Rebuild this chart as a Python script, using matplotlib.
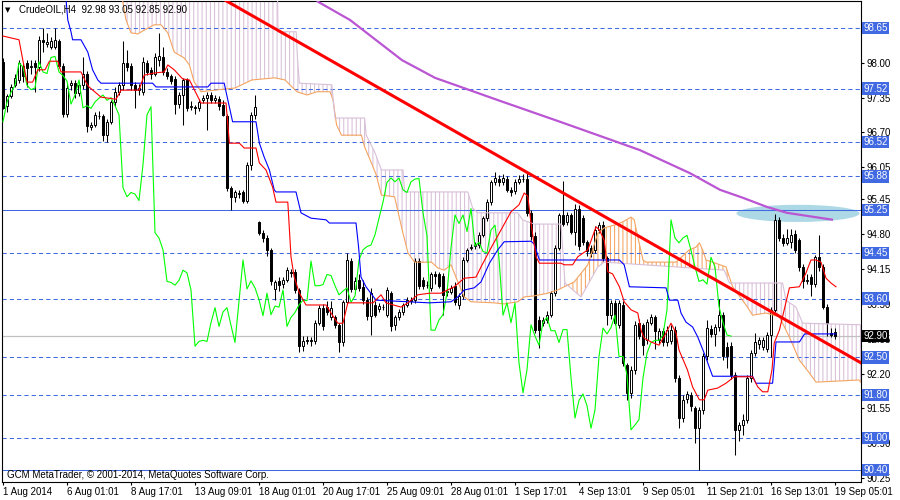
import numpy as np
import matplotlib
matplotlib.use("Agg")
import matplotlib.pyplot as plt
import matplotlib.transforms as mtransforms
from matplotlib.patches import Ellipse, Polygon

plt.rcParams['font.family'] = ['Liberation Sans', 'DejaVu Sans']
plt.rcParams['hatch.linewidth'] = 0.75

# H4 candles, 1 Aug - 19 Sep 2014
opens = [98.02, 97.20, 97.38, 97.59, 97.68, 97.95, 98.00, 97.92, 98.00, 97.92,
         98.42, 98.36, 98.30, 98.30, 98.40, 97.95, 97.05, 97.58, 97.62, 97.43,
         97.58, 97.80, 96.80, 96.84, 97.00, 97.00, 96.65, 96.90, 97.27, 97.45,
         97.58, 98.00, 97.95, 97.58, 97.50, 97.45, 98.00, 97.87, 97.80, 98.05,
         98.10, 97.83, 97.76, 97.70, 97.23, 97.40, 97.68, 97.18, 97.17, 97.16,
         97.30, 97.34, 97.40, 97.30, 97.32, 97.21, 97.00, 95.67, 95.50, 95.57,
         95.58, 95.43, 96.10, 97.03, 95.03, 94.83, 94.73, 94.50, 93.77, 93.92,
         93.88, 93.94, 94.10, 94.10, 93.76, 92.71, 92.80, 92.82, 92.80, 93.15,
         93.43, 93.45, 93.25, 93.25, 93.10, 92.78, 93.54, 94.30, 93.78, 93.94,
         93.82, 93.58, 93.28, 93.48, 93.40, 93.45, 93.30, 93.70, 93.10, 93.25,
         93.34, 93.48, 93.57, 93.57, 94.30, 93.94, 93.85, 93.80, 94.05, 94.05,
         94.02, 93.72, 93.72, 93.84, 93.48, 93.65, 94.32, 94.54, 94.58, 94.60,
         94.79, 95.10, 95.40, 95.77, 95.83, 95.78, 95.83, 95.63, 95.60, 95.78,
         95.83, 95.83, 95.20, 94.77, 93.20, 93.15, 93.20, 93.30, 93.70, 94.55,
         95.16, 95.03, 95.16, 94.85, 95.28, 95.10, 94.65, 94.55, 94.51, 94.88,
         94.97, 94.35, 93.29, 93.52, 93.11, 93.48, 92.36, 91.84, 92.27, 93.15,
         93.11, 92.82, 93.15, 93.25, 92.82, 93.00, 92.78, 92.80, 93.02, 92.12,
         91.37, 91.72, 91.80, 91.55, 91.18, 91.52, 92.52, 93.03, 92.94, 93.06,
         93.29, 92.70, 92.72, 92.17, 91.15, 91.24, 91.34, 92.12, 92.58, 92.75,
         92.70, 92.66, 92.92, 93.39, 95.07, 94.73, 94.64, 94.66, 94.80, 94.69,
         94.19, 93.93, 94.00, 93.87, 94.37, 94.19, 93.45, 92.95, 92.98]
highs = [98.09, 97.42, 97.60, 97.80, 98.05, 98.00, 98.05, 98.05, 98.05, 98.50,
         98.65, 98.55, 98.48, 98.65, 98.45, 98.00, 97.60, 97.68, 97.68, 97.65,
         98.10, 97.85, 96.90, 97.08, 97.10, 97.05, 96.95, 97.30, 97.55, 97.65,
         98.40, 98.24, 98.00, 97.65, 97.60, 98.10, 98.05, 97.92, 98.18, 98.55,
         98.30, 97.90, 97.80, 97.75, 97.45, 97.72, 97.72, 97.28, 97.22, 97.32,
         97.40, 97.45, 97.45, 97.40, 97.38, 97.30, 97.05, 95.70, 95.62, 95.62,
         95.62, 96.15, 97.08, 97.40, 95.05, 94.88, 94.78, 94.55, 93.95, 94.00,
         94.00, 94.18, 94.15, 94.15, 93.80, 92.90, 92.90, 92.88, 93.20, 93.48,
         93.50, 93.55, 93.55, 93.30, 93.15, 93.58, 94.45, 94.35, 94.00, 94.05,
         93.95, 93.62, 93.80, 93.55, 93.52, 93.50, 93.82, 93.75, 93.30, 93.40,
         93.52, 93.62, 93.62, 94.36, 94.35, 94.00, 93.92, 94.10, 94.12, 94.10,
         94.08, 93.80, 93.86, 93.90, 93.70, 94.38, 94.55, 94.62, 94.66, 94.84,
         95.15, 95.45, 95.82, 95.96, 95.90, 95.92, 95.88, 95.68, 95.84, 95.90,
         95.92, 95.95, 95.25, 94.85, 93.28, 93.26, 93.36, 93.75, 94.60, 95.20,
         95.80, 95.22, 95.20, 95.36, 95.35, 95.16, 94.70, 94.60, 94.95, 95.03,
         95.05, 94.40, 93.58, 93.58, 93.58, 93.55, 92.40, 92.35, 93.18, 93.22,
         93.15, 93.22, 93.32, 93.30, 93.05, 93.05, 93.08, 93.10, 93.08, 92.18,
         91.80, 91.88, 91.85, 91.60, 91.58, 92.58, 93.20, 93.10, 93.12, 93.60,
         93.35, 92.78, 92.78, 92.22, 91.30, 91.45, 92.18, 92.64, 92.95, 92.88,
         92.88, 92.98, 93.45, 95.18, 95.12, 94.80, 94.90, 94.90, 94.88, 94.73,
         94.25, 94.05, 94.05, 94.42, 94.78, 94.24, 93.50, 93.05, 93.05]
lows = [97.14, 97.08, 97.35, 97.55, 97.62, 97.65, 97.55, 97.80, 97.45, 97.85,
        98.20, 98.30, 98.25, 98.25, 97.90, 96.98, 96.98, 97.50, 97.35, 97.38,
        97.52, 96.70, 96.75, 96.80, 96.95, 96.55, 96.52, 96.85, 97.20, 97.40,
        97.50, 97.85, 97.50, 97.16, 97.40, 97.40, 97.78, 97.70, 97.75, 97.95,
        97.78, 97.70, 97.60, 97.05, 97.15, 96.84, 97.10, 97.12, 97.05, 97.10,
        97.25, 96.75, 97.25, 97.25, 97.12, 97.00, 95.60, 95.25, 95.40, 95.48,
        95.38, 95.38, 96.00, 96.95, 94.78, 94.65, 94.40, 93.85, 93.57, 93.75,
        93.80, 93.90, 94.00, 93.70, 92.60, 92.62, 92.75, 92.72, 92.75, 93.10,
        93.02, 93.30, 93.20, 93.05, 92.60, 92.72, 93.50, 93.72, 93.70, 93.75,
        93.50, 93.20, 92.92, 93.25, 93.35, 93.38, 93.25, 93.00, 93.02, 93.20,
        93.30, 93.45, 93.50, 93.52, 93.78, 93.78, 93.80, 93.75, 93.88, 93.80,
        93.30, 93.65, 93.68, 93.48, 93.40, 93.60, 94.28, 94.50, 94.52, 94.55,
        94.75, 95.05, 95.35, 95.72, 95.70, 95.72, 95.58, 95.52, 95.55, 95.73,
        95.78, 95.15, 94.70, 92.95, 92.68, 93.08, 93.15, 93.25, 93.65, 94.50,
        94.95, 94.98, 94.80, 94.60, 94.50, 94.60, 94.40, 94.38, 94.45, 94.82,
        94.30, 93.10, 93.22, 93.10, 93.05, 92.35, 91.70, 91.75, 92.20, 92.85,
        92.55, 92.75, 93.10, 92.65, 92.75, 92.72, 92.72, 92.75, 92.05, 91.18,
        91.30, 91.65, 91.50, 90.90, 90.40, 91.45, 92.45, 92.88, 92.72, 93.00,
        92.45, 92.30, 92.10, 90.68, 90.95, 91.05, 91.28, 92.05, 92.52, 92.65,
        92.64, 92.60, 92.50, 93.35, 94.68, 94.58, 94.60, 94.55, 94.45, 94.12,
        93.80, 93.88, 93.65, 93.82, 94.12, 93.40, 92.90, 92.88, 92.85]
closes = [97.16, 97.38, 97.55, 97.72, 98.00, 97.75, 97.90, 97.95, 97.92, 98.43,
          98.38, 98.38, 98.40, 98.42, 97.94, 97.05, 97.53, 97.62, 97.43, 97.58,
          97.80, 96.82, 96.84, 97.03, 97.01, 96.65, 96.90, 97.27, 97.45, 97.58,
          98.00, 97.92, 97.58, 97.50, 97.53, 98.02, 97.83, 97.80, 98.10, 98.12,
          97.83, 97.76, 97.66, 97.23, 97.40, 97.68, 97.16, 97.20, 97.15, 97.27,
          97.34, 97.40, 97.30, 97.35, 97.20, 97.03, 95.67, 95.50, 95.58, 95.55,
          95.43, 96.10, 97.03, 97.18, 94.83, 94.73, 94.51, 93.92, 93.90, 93.85,
          93.94, 94.13, 94.08, 93.76, 92.71, 92.80, 92.82, 92.80, 93.15, 93.43,
          93.08, 93.35, 93.43, 93.10, 92.78, 93.54, 94.32, 93.78, 93.93, 93.80,
          93.58, 93.28, 93.70, 93.30, 93.46, 93.44, 93.76, 93.08, 93.25, 93.34,
          93.48, 93.57, 93.56, 94.30, 93.84, 93.84, 93.86, 94.05, 94.03, 93.84,
          93.67, 93.74, 93.80, 93.53, 93.65, 94.32, 94.51, 94.57, 94.60, 94.79,
          95.10, 95.40, 95.77, 95.85, 95.78, 95.85, 95.63, 95.58, 95.78, 95.83,
          95.84, 95.20, 94.77, 93.01, 93.01, 93.20, 93.30, 93.70, 94.55, 95.16,
          95.00, 95.16, 94.85, 95.28, 94.58, 94.65, 94.48, 94.45, 94.88, 94.97,
          94.35, 93.29, 93.52, 93.15, 93.52, 92.40, 91.84, 92.27, 93.11, 92.90,
          92.73, 93.16, 93.25, 93.00, 93.00, 92.78, 93.02, 93.02, 92.12, 91.37,
          91.70, 91.82, 91.60, 91.18, 91.52, 92.52, 93.05, 92.94, 93.06, 93.29,
          92.52, 92.52, 92.17, 91.15, 91.24, 91.34, 92.12, 92.58, 92.78, 92.82,
          92.82, 92.92, 93.39, 95.07, 94.73, 94.64, 94.73, 94.78, 94.50, 94.19,
          93.92, 93.95, 93.87, 94.37, 94.19, 93.45, 93.15, 92.92, 92.90]

# Ichimoku lines as (bar, price) points
tenkan = [(0, 98.50), (4, 98.43), (6, 97.64), (7.4, 97.64), (8.7, 97.87), (10.5, 97.87),
          (11.6, 98.03), (13.7, 98.03), (14.5, 97.83), (19.5, 97.83), (20.7, 97.64),
          (21.5, 97.55), (24.5, 97.36), (28.25, 97.32), (29.5, 97.49), (34, 97.49),
          (35.3, 97.77), (37.8, 97.81), (40.3, 97.83), (41.2, 97.96), (42.8, 97.87),
          (44.9, 97.70), (46.6, 97.68), (49.5, 97.25), (55.75, 97.25), (56.6, 96.50),
          (59.1, 96.50), (60.3, 96.41), (63.25, 96.41), (64.1, 96.13), (65.75, 96.00),
          (67.4, 95.68), (68.25, 95.40), (71.2, 95.40), (72, 94.38), (72.8, 94.00),
          (74.1, 93.70), (75.75, 93.48), (80.75, 93.48), (82, 93.33), (83.7, 93.14),
          (85, 93.14), (86.2, 93.52), (92.5, 93.52), (94.5, 93.67), (95.75, 93.52),
          (99.5, 93.44), (101.2, 93.52), (103.7, 93.67), (106.6, 93.70), (109.5, 93.70),
          (112.8, 93.82), (115.3, 93.98), (118.25, 94.00), (119.5, 94.19), (122.4, 94.60),
          (124.5, 94.88), (127, 95.22), (129, 95.35), (130.3, 95.57), (131.2, 95.51),
          (132, 95.01), (133.25, 94.38), (134.1, 94.26), (139.5, 94.26), (140.3, 94.23),
          (142.4, 94.23), (143.7, 94.38), (146.2, 94.51), (148.25, 94.94), (149.1, 94.88),
          (150.3, 94.69), (151.2, 94.10), (152.4, 94.06), (154.1, 93.82), (155.3, 93.54),
          (157, 93.39), (158.7, 93.33), (159.5, 93.01), (160.3, 92.86), (162, 92.79),
          (164, 92.73), (165.5, 92.92), (167, 93.14), (168.25, 92.96), (169, 92.64),
          (171.1, 92.27), (172.4, 91.95), (174.1, 91.71), (175.3, 91.71), (176.2, 91.89),
          (178.7, 91.93), (180.75, 92.02), (182.8, 92.14), (187.4, 92.14), (188.7, 91.95),
          (189.9, 91.86), (191.2, 91.86), (192.25, 92.27), (192.8, 92.77), (194.1, 93.01),
          (195.3, 93.39), (196.6, 93.80), (199.1, 93.82), (200.75, 94.08), (202, 94.32),
          (203.25, 94.32), (204.5, 94.28), (205.75, 93.98), (207, 93.89), (208.25, 93.82)]
kijun = [(15.5, 99.40), (16.2, 98.80), (17, 98.58), (17.4, 98.43), (19.5, 98.43), (21.2, 98.20),
         (22.4, 97.87), (23.7, 97.68), (24.5, 97.62), (37.4, 97.62), (38.25, 97.55), (51.2, 97.55),
         (52, 97.62), (55.3, 97.62), (56.2, 97.31), (57.4, 96.90), (63.25, 96.90), (64.1, 96.50),
         (65.3, 96.24), (66.6, 96.00), (67.8, 95.63), (68.25, 95.59), (73.25, 95.59), (74.5, 95.20),
         (77, 95.10), (80.75, 95.07), (81.6, 95.01), (88.25, 95.01), (88.9, 94.56), (89.5, 94.00),
         (90.75, 93.82), (93.25, 93.57), (106.6, 93.52), (112, 93.54), (113.7, 93.63),
         (115.3, 93.76), (117.8, 93.80), (119.5, 93.91), (121.6, 94.26), (123.7, 94.51),
         (125.3, 94.66), (132, 94.67), (132.8, 94.62), (134.1, 94.32), (154.1, 94.32),
         (155.3, 94.23), (156.6, 93.82), (165.75, 93.80), (166.6, 93.57), (168.7, 93.57),
         (169.5, 93.33), (170.75, 93.16), (172.4, 93.07), (173.7, 92.88), (175.3, 92.58),
         (177.4, 92.15), (187.4, 92.15), (188.25, 92.02), (192.4, 92.02), (193.25, 92.79),
         (199.1, 92.79), (200.4, 92.94), (208.25, 92.94)]
senkou_a = [(0, 99.55), (29, 99.55), (30.75, 98.80), (32, 98.56), (33.7, 98.54), (35.3, 98.61),
            (37.8, 98.71), (39.5, 98.71), (41.2, 98.56), (42.8, 98.20), (45.3, 98.09),
            (46.6, 97.96), (47.8, 97.64), (48.7, 97.55), (49.5, 97.46), (53, 97.49), (58, 97.53),
            (62.2, 97.68), (68, 97.72), (70.5, 97.68), (73.5, 97.46), (76, 97.40), (78.5, 97.46),
            (81.75, 97.46), (82.5, 97.31), (83.4, 96.84), (84.6, 96.65), (89.6, 96.65),
            (90.4, 96.43), (92.1, 96.13), (93.3, 95.91), (94.6, 95.53), (97.9, 95.50),
            (98.75, 95.22), (100, 94.82), (101.25, 94.45), (102.9, 94.28), (107.1, 94.28),
            (108.75, 94.17), (110.3, 94.13), (112, 94.23), (113.5, 93.95), (115.3, 93.63),
            (117, 93.54), (122.8, 93.52), (125.3, 93.50), (128.7, 93.54), (130.3, 93.63),
            (132.8, 93.65), (136.2, 93.70), (138.7, 93.76), (140.3, 93.82), (142.8, 93.91),
            (146.2, 94.23), (148.7, 94.82), (150.3, 94.92), (152.8, 94.97), (154.9, 95.03),
            (157, 95.12), (157.8, 95.07), (158.7, 94.75), (160, 94.32), (160.75, 94.28),
            (168.25, 94.28), (171.6, 94.51), (173.25, 94.56), (174.1, 94.64), (174.9, 94.51),
            (175.75, 94.32), (177.4, 94.28), (180.75, 94.19), (182.4, 93.82), (185.75, 93.48),
            (187.4, 93.29), (190.75, 93.33), (194.1, 93.26), (196.6, 92.88), (199.1, 92.45),
            (201.6, 92.21), (203.25, 92.04), (214, 92.08), (215, 91.99)]
senkou_b = [(0, 99.92), (68.5, 99.92), (68.75, 98.58), (73.3, 98.58), (73.6, 98.11), (74.1, 97.62),
            (82.2, 97.59), (83, 96.97), (90.4, 96.97), (90.8, 96.65), (92.9, 96.34), (94.6, 96.00),
            (100, 96.00), (100.4, 95.59), (116.2, 95.59), (117.4, 95.29), (118.7, 95.20),
            (128.7, 95.20), (129.9, 95.07), (132.8, 94.99), (139.5, 94.99), (140.5, 93.89),
            (144.5, 93.63), (148.7, 94.19), (150.3, 94.28), (180.3, 94.13), (181.6, 93.89),
            (194.9, 93.89), (195.75, 93.57), (198.25, 93.44), (199.9, 93.14), (215, 93.11)]
chikou_shift = 26

# long moving average (purple)
ma_line = [(75, 99.50), (78.75, 99.14), (86.75, 98.80), (99.75, 98.05), (108, 97.72),
           (124.25, 97.29), (139.25, 96.90), (159.25, 96.37), (171.75, 95.94), (179.25, 95.63),
           (185, 95.48), (191, 95.31), (196, 95.20), (207.5, 95.07)]

# chart objects
trend_line = [(55.5, 99.17), (214.5, 92.40)]
ellipse_center = (198.75, 95.19)
ellipse_size = (30.75, 0.32)

dashed_levels = [98.65, 97.52, 96.52, 95.88, 94.45, 93.60, 92.50, 91.80, 91.00]
solid_levels = [95.25, 90.40]
last_price = 92.90

price_ticks = [98.00, 97.35, 96.70, 96.05, 95.45, 94.80, 94.15, 93.50, 92.85,
               92.20, 91.55, 90.90, 90.25]
date_labels = ['1 Aug 2014', '6 Aug 01:01', '8 Aug 17:01', '13 Aug 09:01', '18 Aug 01:01',
               '20 Aug 17:01', '25 Aug 09:01', '28 Aug 01:01', '1 Sep 17:01', '4 Sep 13:01',
               '9 Sep 05:01', '11 Sep 21:01', '16 Sep 13:01', '19 Sep 05:01']
bars_per_label = 16

title = 'CrudeOIL,H4  92.98 93.05 92.85 92.90'
copyright_text = 'GCM MetaTrader, \u00a9 2001-2014, MetaQuotes Software Corp.'

level_blue = '#4169E1'

fig = plt.figure(figsize=(9, 5), dpi=100)
ax = fig.add_axes([2 / 900, 18 / 500, 859 / 900, 481 / 500])

# cloud: hatch between span A and span B, coloured by which one is on top
between = senkou_a + senkou_b[::-1]
for span, col in ((senkou_a, '#F4A460'), (senkou_b, '#D8BFD8')):
    hatch = Polygon(between, closed=True, facecolor='none', edgecolor=col,
                    hatch='||||', linewidth=0, zorder=1)
    ax.add_patch(hatch)
    under = Polygon(span + [(span[-1][0], 80.0), (span[0][0], 80.0)], closed=True,
                    transform=ax.transData)
    hatch.set_clip_path(under)

ax.add_patch(Ellipse(ellipse_center, ellipse_size[0], ellipse_size[1],
                     facecolor='#ADD8E6', edgecolor='none', zorder=1.5))

for lv in dashed_levels:
    ax.axhline(lv, color=level_blue, lw=0.75, ls=(0, (4, 3)), zorder=2)
for lv in solid_levels:
    ax.axhline(lv, color=level_blue, lw=0.75, zorder=2)
ax.axhline(last_price, color='#C0C0C0', lw=0.9, zorder=2)

# candles
o = np.array(opens)
c = np.array(closes)
x = np.arange(len(c))
ax.vlines(x, lows, highs, color='black', lw=0.75, zorder=3)
up = c >= o
ax.bar(x, np.abs(c - o), bottom=np.minimum(o, c), width=0.55,
       color=np.where(up, 'white', 'black'), edgecolor='black', linewidth=0.7, zorder=4)

# ichimoku
ax.plot(*zip(*senkou_a), color='#F4A460', lw=0.8, zorder=5)
ax.plot(*zip(*senkou_b), color='#D8BFD8', lw=0.8, zorder=5)
ax.plot(x[:-chikou_shift], c[chikou_shift:], color='#00FF00', lw=0.8, zorder=5)
ax.plot(*zip(*kijun), color='#0000FF', lw=0.8, zorder=5)
ax.plot(*zip(*tenkan), color='#FF0000', lw=0.8, zorder=5)

ax.plot(*zip(*ma_line), color='#BA55D3', lw=1.6, zorder=6, solid_capstyle='butt')
ax.plot(*zip(*trend_line), color='#FF0000', lw=2.2, zorder=7)

ax.set_xlim(-0.25, 214.5)
ax.set_ylim(90.176, 99.154)

# axes / ticks
for side in ('left', 'right', 'bottom', 'top'):
    ax.spines[side].set_color('black')
    ax.spines[side].set_linewidth(0.8)
ax.yaxis.tick_right()
ax.set_yticks(price_ticks)
ax.set_yticklabels([f'{v:.2f}' for v in price_ticks])
ax.tick_params(axis='y', right=True, left=False, labelright=True, labelleft=False,
               length=2.5, width=0.8, pad=1.5, labelsize=7, colors='black')
ax.set_xticks(np.arange(len(date_labels)) * bars_per_label)
ax.set_xticklabels(date_labels, ha='left')
ax.tick_params(axis='x', length=2.5, width=0.8, pad=1.0, labelsize=7, colors='black')

# price labels on the right axis
trans = mtransforms.blended_transform_factory(ax.transAxes, ax.transData)
for lv in dashed_levels + solid_levels:
    ax.text(1.0025, lv, f'{lv:.2f}', transform=trans, ha='left', va='center',
            fontsize=7, color='white', clip_on=False, zorder=10,
            bbox=dict(boxstyle='square,pad=0.12', facecolor=level_blue, edgecolor='none'))
ax.text(1.0025, last_price, f'{last_price:.2f}', transform=trans, ha='left', va='center',
        fontsize=7, color='white', clip_on=False, zorder=10,
        bbox=dict(boxstyle='square,pad=0.12', facecolor='black', edgecolor='none'))

fig.text(5 / 900, 1 - 10 / 500, '\u25bc', fontsize=5, va='center', ha='left',
         family=['DejaVu Sans'])
fig.text(19 / 900, 1 - 10 / 500, title, fontsize=7, va='center', ha='left')
fig.text(7 / 900, 1 - 475 / 500, copyright_text, fontsize=7, va='center', ha='left')

fig.savefig('out.png', dpi=100)
